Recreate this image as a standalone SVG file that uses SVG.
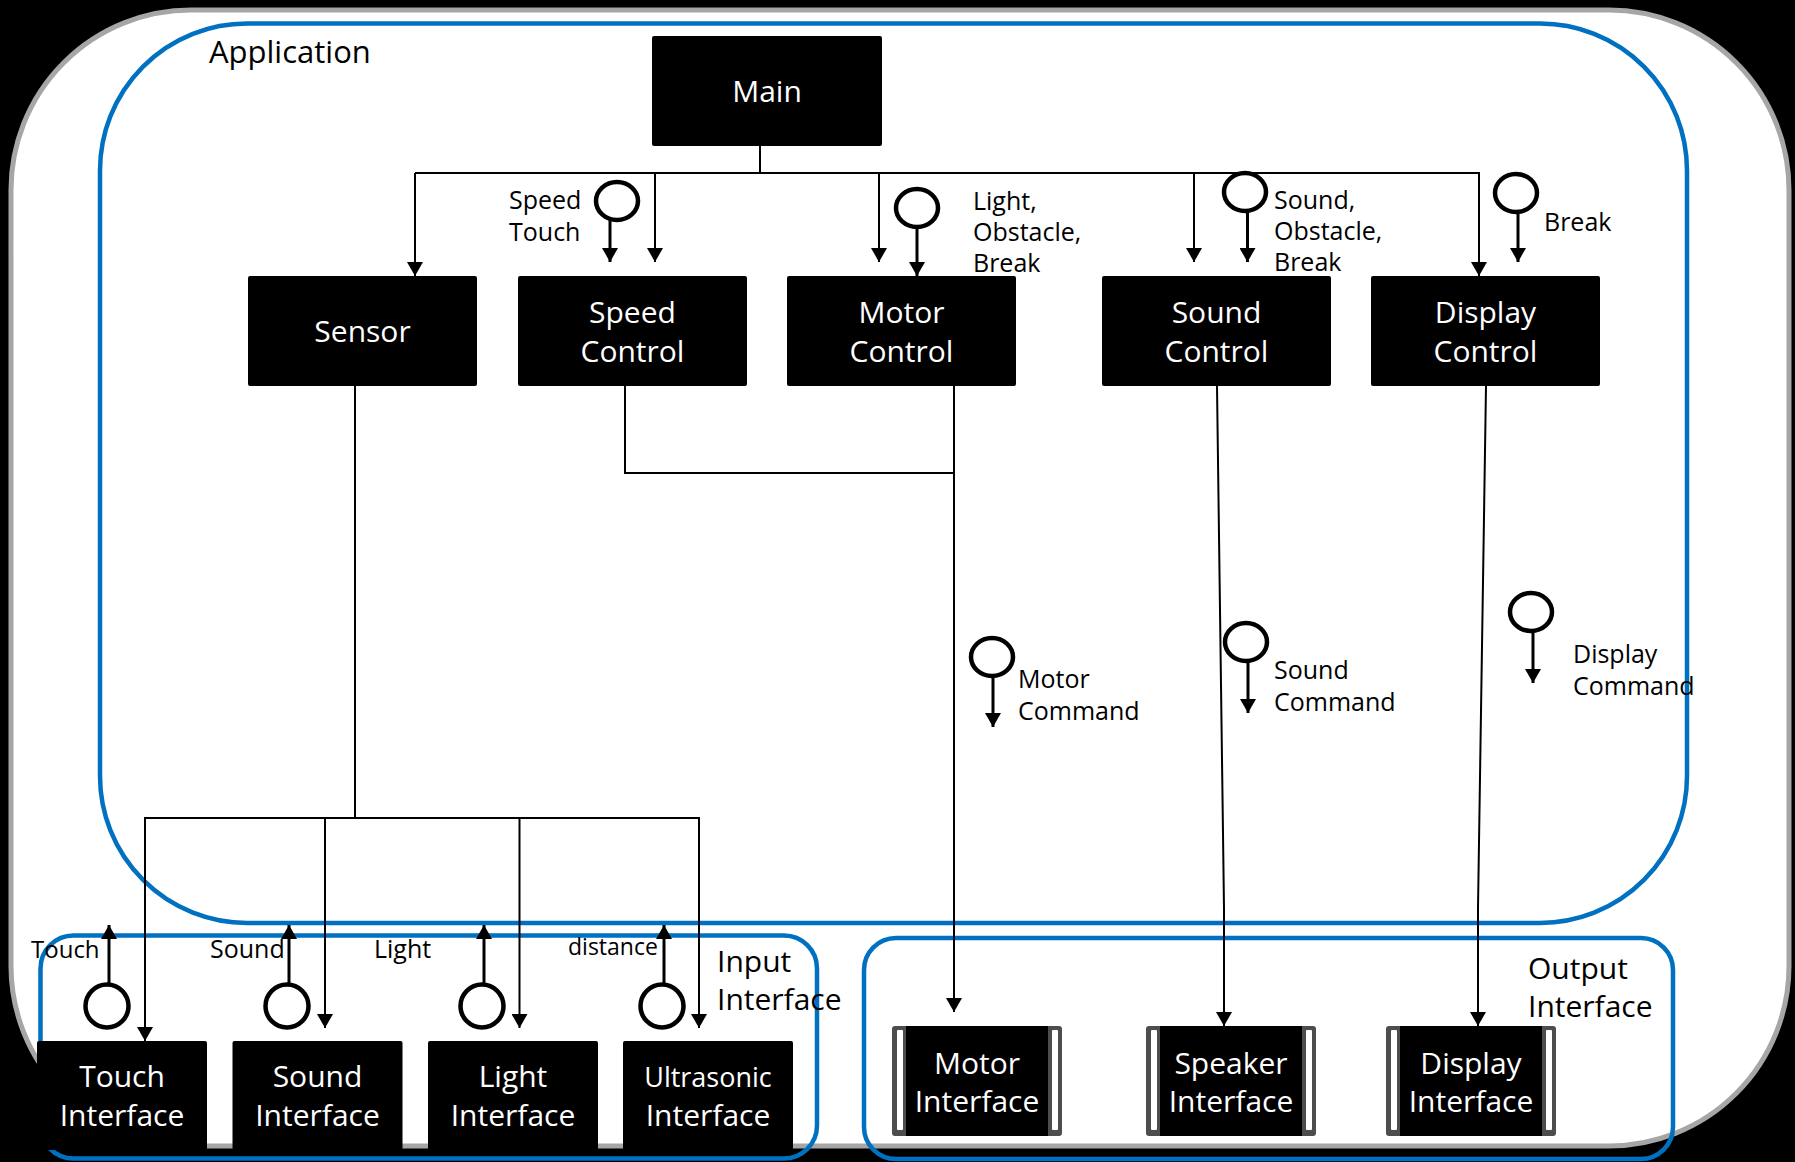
<svg xmlns="http://www.w3.org/2000/svg" width="1795" height="1162" viewBox="0 0 1795 1162">
  <defs>
    <style>
      .frame { fill: #ffffff; stroke: #a6a6a6; stroke-width: 5; }
      .group { fill: none; stroke: #0070c0; stroke-width: 4.5; }
      .node { fill: #000000; }
      .strip { fill: #4d4d4d; }
      .slot { fill: #ffffff; }
      .wire { fill: none; stroke: #000000; stroke-width: 2; }
      .stem { fill: none; stroke: #000000; stroke-width: 3; }
      .bulb { fill: #ffffff; stroke: #000000; stroke-width: 4.5; }
      .ntext { font-family: 'Open Sans', 'DejaVu Sans', sans-serif; font-size: 30px; fill: #ffffff; text-anchor: middle; }
      .gtext { font-family: 'Open Sans', 'DejaVu Sans', sans-serif; font-size: 30px; fill: #000000; }
      .ltext { font-family: 'Open Sans', 'DejaVu Sans', sans-serif; font-size: 25px; fill: #000000; }
    </style>
    <marker id="arrow" viewBox="0 0 14 16" refX="14" refY="8" markerWidth="14" markerHeight="16" orient="auto" markerUnits="userSpaceOnUse">
      <path d="M0,0 L14,8 L0,16 Z" fill="#000000"/>
    </marker>
  </defs>

  <!-- backdrop and outer frame -->
  <g id="frame">
    <rect x="0" y="0" width="1795" height="1162" fill="#000000"/>
    <rect class="frame" x="11" y="10" width="1778" height="1136" rx="180" ry="180"/>
  </g>

  <!-- layer containers -->
  <g id="application">
    <rect class="group" x="100" y="23.5" width="1587" height="899.5" rx="147" ry="147"/>
    <text class="gtext" x="209" y="63" style="font-size:31px">Application</text>
  </g>
  <g id="input-interface">
    <rect class="group" x="40.5" y="935.5" width="776.5" height="223" rx="33" ry="33"/>
  </g>
  <g id="output-interface">
    <rect class="group" x="864" y="938" width="809" height="221" rx="32" ry="32"/>
  </g>

  <!-- connectors -->
  <g id="connectors">
    <!-- Main fan-out -->
    <line class="wire" x1="760" y1="146" x2="760" y2="173"/>
    <line class="wire" x1="415" y1="173" x2="1479" y2="173"/>
    <line class="wire" x1="415" y1="173" x2="415" y2="276" marker-end="url(#arrow)"/>
    <line class="wire" x1="655" y1="173" x2="655" y2="262" marker-end="url(#arrow)"/>
    <line class="wire" x1="879" y1="173" x2="879" y2="262" marker-end="url(#arrow)"/>
    <line class="wire" x1="1194" y1="173" x2="1194" y2="262" marker-end="url(#arrow)"/>
    <line class="wire" x1="1479" y1="172" x2="1479" y2="276" marker-end="url(#arrow)"/>
    <!-- Sensor to input interfaces -->
    <line class="wire" x1="355" y1="386" x2="355" y2="818"/>
    <line class="wire" x1="145" y1="818" x2="699" y2="818"/>
    <line class="wire" x1="145" y1="817" x2="145" y2="1041" marker-end="url(#arrow)"/>
    <line class="wire" x1="325" y1="818" x2="325" y2="1028" marker-end="url(#arrow)"/>
    <line class="wire" x1="519.5" y1="818" x2="519.5" y2="1028" marker-end="url(#arrow)"/>
    <line class="wire" x1="699" y1="817" x2="699" y2="1028" marker-end="url(#arrow)"/>
    <!-- Speed Control joins Motor Control -->
    <polyline class="wire" points="625,386 625,473 954,473"/>
    <line class="wire" x1="954" y1="386" x2="954" y2="1012" marker-end="url(#arrow)"/>
    <!-- Sound Control to Speaker Interface -->
    <polyline class="wire" points="1217,386 1224,908 1224,1026" marker-end="url(#arrow)"/>
    <!-- Display Control to Display Interface -->
    <polyline class="wire" points="1486,386 1478,908 1478,1026" marker-end="url(#arrow)"/>
  </g>

  <!-- application modules -->
  <g id="main">
    <rect class="node" x="652" y="36" width="230" height="110" rx="2"/>
    <text class="ntext" x="767" y="102">Main</text>
  </g>
  <g id="sensor">
    <rect class="node" x="248" y="276" width="229" height="110" rx="2"/>
    <text class="ntext" x="362.5" y="342">Sensor</text>
  </g>
  <g id="speed-control">
    <rect class="node" x="518" y="276" width="229" height="110" rx="2"/>
    <text class="ntext" x="632.5" y="323">Speed</text>
    <text class="ntext" x="632.5" y="362">Control</text>
  </g>
  <g id="motor-control">
    <rect class="node" x="787" y="276" width="229" height="110" rx="2"/>
    <text class="ntext" x="901.5" y="323">Motor</text>
    <text class="ntext" x="901.5" y="362">Control</text>
  </g>
  <g id="sound-control">
    <rect class="node" x="1102" y="276" width="229" height="110" rx="2"/>
    <text class="ntext" x="1216.5" y="323">Sound</text>
    <text class="ntext" x="1216.5" y="362">Control</text>
  </g>
  <g id="display-control">
    <rect class="node" x="1371" y="276" width="229" height="110" rx="2"/>
    <text class="ntext" x="1485.5" y="323">Display</text>
    <text class="ntext" x="1485.5" y="362">Control</text>
  </g>

  <!-- input interfaces -->
  <g id="touch-interface">
    <rect class="node" x="37" y="1041" width="170" height="109" rx="2"/>
    <text class="ntext" x="122" y="1087">Touch</text>
    <text class="ntext" x="122" y="1126">Interface</text>
  </g>
  <g id="sound-interface">
    <rect class="node" x="232.5" y="1041" width="170" height="109" rx="2"/>
    <text class="ntext" x="317.5" y="1087">Sound</text>
    <text class="ntext" x="317.5" y="1126">Interface</text>
  </g>
  <g id="light-interface">
    <rect class="node" x="428" y="1041" width="170" height="109" rx="2"/>
    <text class="ntext" x="513" y="1087">Light</text>
    <text class="ntext" x="513" y="1126">Interface</text>
  </g>
  <g id="ultrasonic-interface">
    <rect class="node" x="623" y="1041" width="170" height="109" rx="2"/>
    <text class="ntext" x="708" y="1087" style="font-size:27px">Ultrasonic</text>
    <text class="ntext" x="708" y="1126">Interface</text>
  </g>

  <!-- output interfaces (framed boxes) -->
  <g id="motor-interface">
    <rect class="strip" x="892" y="1026" width="170" height="110" rx="3"/>
    <rect class="node" x="906" y="1026" width="142" height="110"/>
    <rect class="slot" x="897" y="1030" width="6" height="100" rx="1"/>
    <rect class="slot" x="1052" y="1030" width="6" height="100" rx="1"/>
    <text class="ntext" x="977" y="1074">Motor</text>
    <text class="ntext" x="977" y="1112">Interface</text>
  </g>
  <g id="speaker-interface">
    <rect class="strip" x="1146" y="1026" width="170" height="110" rx="3"/>
    <rect class="node" x="1160" y="1026" width="142" height="110"/>
    <rect class="slot" x="1151" y="1030" width="6" height="100" rx="1"/>
    <rect class="slot" x="1306" y="1030" width="6" height="100" rx="1"/>
    <text class="ntext" x="1231" y="1074">Speaker</text>
    <text class="ntext" x="1231" y="1112">Interface</text>
  </g>
  <g id="display-interface">
    <rect class="strip" x="1386" y="1026" width="170" height="110" rx="3"/>
    <rect class="node" x="1400" y="1026" width="142" height="110"/>
    <rect class="slot" x="1391" y="1030" width="6" height="100" rx="1"/>
    <rect class="slot" x="1546" y="1030" width="6" height="100" rx="1"/>
    <text class="ntext" x="1471" y="1074">Display</text>
    <text class="ntext" x="1471" y="1112">Interface</text>
  </g>

  <!-- data flows (lollipop arrows) -->
  <g id="flow-speed-touch">
    <ellipse class="bulb" cx="617" cy="201" rx="21" ry="19"/>
    <line class="stem" x1="610" y1="219" x2="610" y2="262" marker-end="url(#arrow)"/>
    <text class="ltext" x="509" y="209">Speed</text>
    <text class="ltext" x="509" y="241">Touch</text>
  </g>
  <g id="flow-motor-in">
    <ellipse class="bulb" cx="917" cy="208" rx="21" ry="19"/>
    <line class="stem" x1="917" y1="227" x2="917" y2="276" marker-end="url(#arrow)"/>
    <text class="ltext" x="973" y="210">Light,</text>
    <text class="ltext" x="973" y="241">Obstacle,</text>
    <text class="ltext" x="973" y="272">Break</text>
  </g>
  <g id="flow-sound-in">
    <ellipse class="bulb" cx="1245" cy="192" rx="21" ry="19"/>
    <line class="stem" x1="1247.5" y1="211" x2="1247.5" y2="262" marker-end="url(#arrow)"/>
    <text class="ltext" x="1274" y="209">Sound,</text>
    <text class="ltext" x="1274" y="240">Obstacle,</text>
    <text class="ltext" x="1274" y="271">Break</text>
  </g>
  <g id="flow-break">
    <ellipse class="bulb" cx="1516" cy="193" rx="21" ry="19"/>
    <line class="stem" x1="1518" y1="212" x2="1518" y2="262" marker-end="url(#arrow)"/>
    <text class="ltext" x="1544" y="231">Break</text>
  </g>
  <g id="flow-motor-command">
    <ellipse class="bulb" cx="992" cy="657" rx="21" ry="19"/>
    <line class="stem" x1="993" y1="676" x2="993" y2="727" marker-end="url(#arrow)"/>
    <text class="ltext" x="1018" y="688">Motor</text>
    <text class="ltext" x="1018" y="720">Command</text>
  </g>
  <g id="flow-sound-command">
    <ellipse class="bulb" cx="1246" cy="642" rx="21" ry="19"/>
    <line class="stem" x1="1248" y1="661" x2="1248" y2="713" marker-end="url(#arrow)"/>
    <text class="ltext" x="1274" y="679">Sound</text>
    <text class="ltext" x="1274" y="711">Command</text>
  </g>
  <g id="flow-display-command">
    <ellipse class="bulb" cx="1531" cy="612" rx="21" ry="19"/>
    <line class="stem" x1="1533" y1="631" x2="1533" y2="683" marker-end="url(#arrow)"/>
    <text class="ltext" x="1573" y="663">Display</text>
    <text class="ltext" x="1573" y="695">Command</text>
  </g>
  <g id="flow-touch">
    <circle class="bulb" cx="107" cy="1006" r="21.5"/>
    <line class="stem" x1="109" y1="984" x2="109" y2="925" marker-end="url(#arrow)"/>
    <text class="ltext" x="31" y="958" style="font-size:24px">Touch</text>
  </g>
  <g id="flow-sound">
    <circle class="bulb" cx="287" cy="1006" r="21.5"/>
    <line class="stem" x1="289" y1="984" x2="289" y2="925" marker-end="url(#arrow)"/>
    <text class="ltext" x="210" y="958">Sound</text>
  </g>
  <g id="flow-light">
    <circle class="bulb" cx="482" cy="1006" r="21.5"/>
    <line class="stem" x1="484" y1="984" x2="484" y2="925" marker-end="url(#arrow)"/>
    <text class="ltext" x="374" y="958">Light</text>
  </g>
  <g id="flow-distance">
    <circle class="bulb" cx="662" cy="1006" r="21.5"/>
    <line class="stem" x1="664" y1="984" x2="664" y2="925" marker-end="url(#arrow)"/>
    <text class="ltext" x="568" y="955" style="font-size:23px">distance</text>
  </g>

  <!-- container captions -->
  <g id="captions">
    <text class="gtext" x="717" y="972">Input</text>
    <text class="gtext" x="717" y="1010">Interface</text>
    <text class="gtext" x="1528" y="979">Output</text>
    <text class="gtext" x="1528" y="1017">Interface</text>
  </g>
</svg>
